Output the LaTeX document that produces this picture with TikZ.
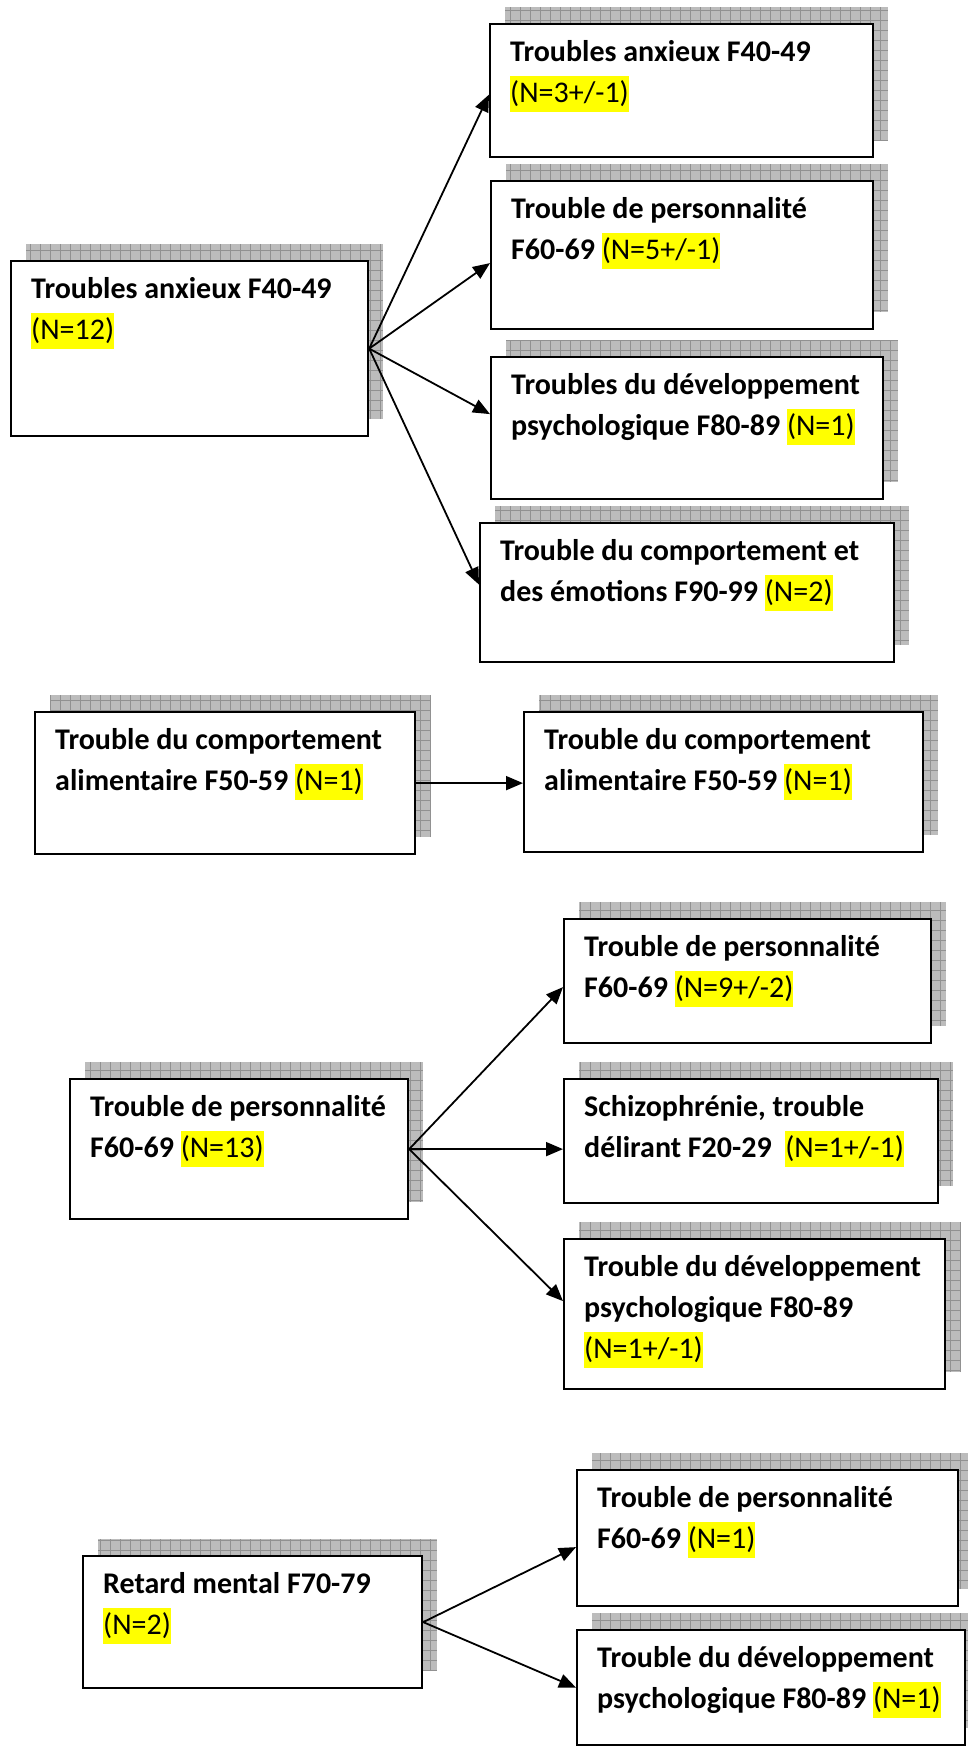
\documentclass[tikz,border=0pt]{standalone}
\usepackage{fontspec}
\setmainfont{Carlito}
\usetikzlibrary{arrows.meta}
\definecolor{shadowfill}{RGB}{188,188,188}
\definecolor{gridcol}{RGB}{145,145,145}
\definecolor{hlyellow}{RGB}{255,255,0}
\newcommand\hlt[1]{{\mdseries\setlength{\fboxsep}{0pt}\colorbox{hlyellow}{\rule[-10pt]{0pt}{36pt}#1}}}
\tikzset{
  framebox/.style={draw=black, line width=2.2pt, fill=white, rectangle, inner sep=0pt, anchor=north west},
  boxtext/.style={anchor=north west, inner sep=0pt, align=left, font=\fontsize{30pt}{41pt}\selectfont\bfseries},
  shade box/.style={fill=shadowfill},
  gridline/.style={draw=gridcol, line width=0.7pt},
  conn/.style={line width=1.8pt, -{Triangle[length=17pt,width=14pt]}},
}
% name, left, top, right, bottom, text
\newcommand\mybox[6]{%
  \fill[shade box] (#2+16,-#3+16) rectangle (#4+16,-#5+16);
  \draw[gridline, step=10pt] (#2+16,-#3+16) grid (#4+16,-#5+16);
  \node[framebox, minimum width=#4-#2, minimum height=#5-#3] (#1) at (#2,-#3) {};
  \node[boxtext] (#1t) at (#2+21,-#3-10) {\rule{0pt}{28pt}#6};
}
\begin{document}
\begin{tikzpicture}[x=1pt,y=1pt]
\useasboundingbox (0,0) rectangle (967,-1754);
\fill[white] (0,0) rectangle (967,-1754);

\mybox{A}{10}{260}{367}{435}{Troubles anxieux F40-49\\\hlt{(N=12)}}
\mybox{B1}{489}{23}{872}{156}{Troubles anxieux F40-49\\\hlt{(N=3+/-1)}}
\mybox{B2}{490}{180}{872}{328}{Trouble de personnalité\\F60-69 \hlt{(N=5+/-1)}}
\mybox{B3}{490}{356}{882}{498}{Troubles du développement\\psychologique F80-89 \hlt{(N=1)}}
\mybox{B4}{479}{522}{893}{661}{Trouble du comportement et\\des émotions F90-99 \hlt{(N=2)}}

\mybox{C1}{34}{711}{414}{853}{Trouble du comportement\\alimentaire F50-59 \hlt{(N=1)}}
\mybox{C2}{523}{711}{922}{851}{Trouble du comportement\\alimentaire F50-59 \hlt{(N=1)}}

\mybox{D}{69}{1078}{407}{1218}{Trouble de personnalité\\F60-69 \hlt{(N=13)}}
\mybox{E1}{563}{918}{930}{1042}{Trouble de personnalité\\F60-69 \hlt{(N=9+/-2)}}
\mybox{E2}{563}{1078}{937}{1202}{Schizophrénie, trouble\\délirant F20-29\ \ \hlt{(N=1+/-1)}}
\mybox{E3}{563}{1238}{944}{1388}{Trouble du développement\\psychologique F80-89\\\hlt{(N=1+/-1)}}

\mybox{F}{82}{1555}{421}{1687}{Retard mental F70-79\\\hlt{(N=2)}}
\mybox{G1}{576}{1469}{957}{1605}{Trouble de personnalité\\F60-69 \hlt{(N=1)}}
\mybox{G2}{576}{1629}{964}{1744}{Trouble du développement\\psychologique F80-89 \hlt{(N=1)}}

\draw[conn] (A.east) -- ([yshift=-4pt]B1.west);
\draw[conn] (A.east) -- ([yshift=-8pt]B2.west);
\draw[conn] (A.east) -- ([yshift=14pt]B3.west);
\draw[conn] (A.east) -- ([yshift=8pt]B4.west);

\draw[conn] (C1.east) -- (C1.east -| C2.west);

\draw[conn] (D.east) -- ([yshift=-6pt]E1.west);
\draw[conn] (D.east) -- (D.east -| E2.west);
\draw[conn] (D.east) -- ([yshift=13pt]E3.west);

\draw[conn] (F.east) -- ([yshift=-9pt]G1.west);
\draw[conn] (F.east) -- (G2.west);
\end{tikzpicture}
\end{document}
